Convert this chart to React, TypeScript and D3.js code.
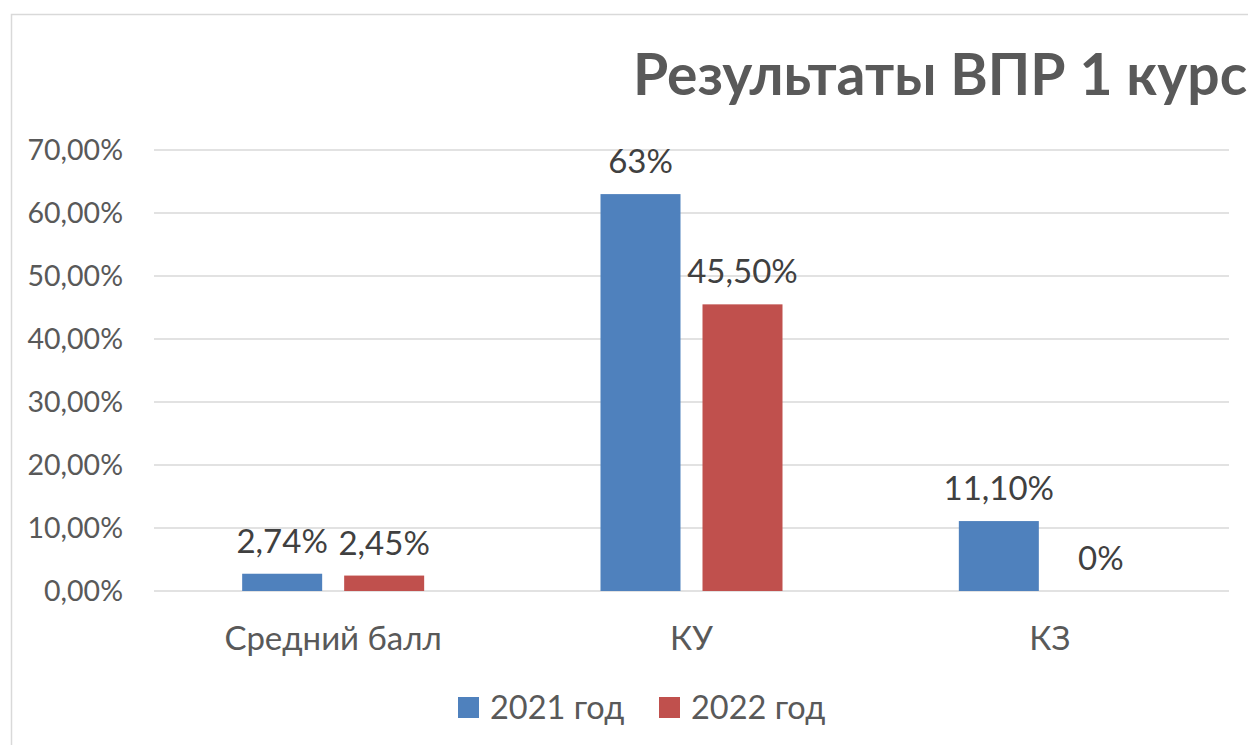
import React from "react";
import * as d3 from "d3";

const categories = ["Средний балл", "КУ", "КЗ"];
const seriesNames = ["2021 год", "2022 год"];
const values2021 = [2.74, 63, 11.1];
const values2022 = [2.45, 45.5, 0];
const labels2021 = ["2,74%", "63%", "11,10%"];
const labels2022 = ["2,45%", "45,50%", "0%"];
const yTicks = [0, 10, 20, 30, 40, 50, 60, 70];
const colors = ["#4F81BD", "#C0504D"];
const title = "Результаты ВПР 1 курс";

const W = 1248;
const H = 745;
const FONT = "Lato, 'Open Sans', sans-serif";

export default function App() {
  const x0 = d3.scaleBand<string>().domain(categories).range([154, 1229]);
  const x1 = d3
    .scaleBand<string>()
    .domain(seriesNames)
    .range([0, 182])
    .paddingInner(0.2157);
  const y = d3.scaleLinear().domain([0, 70]).range([591, 150]);
  const series = [
    { name: seriesNames[0], values: values2021, labels: labels2021, color: colors[0] },
    { name: seriesNames[1], values: values2022, labels: labels2022, color: colors[1] },
  ];
  const fmt = (v: number) => v.toFixed(2).replace(".", ",") + "%";

  return (
    <svg
      width={W}
      height={H}
      style={{ position: "fixed", left: 0, top: 0, background: "#fff" }}
      fontFamily={FONT}
    >
      <rect x={0} y={0} width={W} height={H} fill="#fff" />
      <rect x={11.5} y={14.5} width={1400} height={900} fill="none" stroke="#d9d9d9" strokeWidth={1.5} />
      <text x={633} y={95} fontSize={57} fontWeight={700} fill="#595959" fontFamily={FONT}>
        {title}
      </text>
      {yTicks.map((t) => (
        <g key={t}>
          <line x1={154} x2={1229} y1={y(t)} y2={y(t)} stroke="#d9d9d9" strokeWidth={1.5} />
          <text x={123} y={y(t)} dy="0.35em" textAnchor="end" fontSize={28.5} fill="#595959">
            {fmt(t)}
          </text>
        </g>
      ))}
      {categories.map((c, i) => {
        const cx = (x0(c) as number) + x0.bandwidth() / 2;
        const gx = cx - 91;
        return (
          <g key={c}>
            {series.map((s) => {
              const bx = gx + (x1(s.name) as number);
              const top = y(s.values[i]);
              return (
                <g key={s.name}>
                  {s.values[i] > 0 && (
                    <rect x={bx} y={top} width={x1.bandwidth()} height={y(0) - top} fill={s.color} />
                  )}
                  <text
                    x={bx + x1.bandwidth() / 2}
                    y={top - 21}
                    textAnchor="middle"
                    fontSize={33}
                    fill="#404040"
                  >
                    {s.labels[i]}
                  </text>
                </g>
              );
            })}
            <text x={cx} y={650} textAnchor="middle" fontSize={33} fill="#595959">
              {c}
            </text>
          </g>
        );
      })}
      {series.map((s, i) => (
        <g key={s.name}>
          <rect x={458 + i * 201} y={697} width={21} height={21} fill={s.color} />
          <text x={490 + i * 201} y={719} fontSize={32.5} fill="#595959">
            {s.name}
          </text>
        </g>
      ))}
    </svg>
  );
}
